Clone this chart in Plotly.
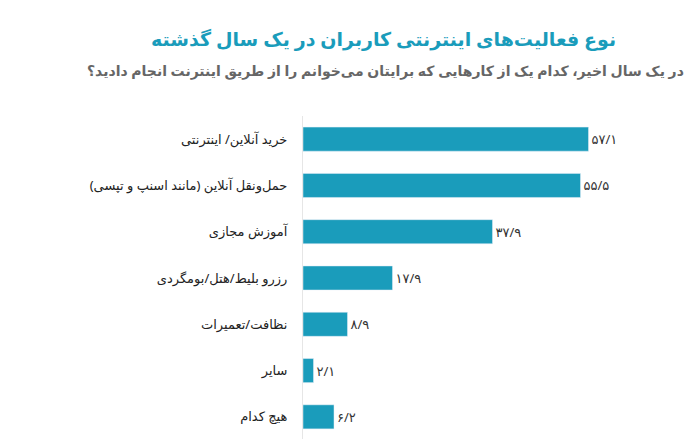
import plotly.graph_objects as go

categories = ["خرید آنلاین/ اینترنتی", "حمل‌ونقل آنلاین (مانند اسنپ و تپسی)", "آموزش مجازی",
              "رزرو بلیط/هتل/بومگردی", "نظافت/تعمیرات", "سایر", "هیچ کدام"]
values = [57.1, 55.5, 37.9, 17.9, 8.9, 2.1, 6.2]
labels = ["۵۷/۱", "۵۵/۵", "۳۷/۹", "۱۷/۹", "۸/۹", "۲/۱", "۶/۲"]

TEAL = "#1a9cbb"
FONT = "Noto Sans, DejaVu Sans, sans-serif"

fig = go.Figure(go.Bar(
    x=values, y=categories, orientation="h", marker_color=TEAL, width=0.52,
    text=labels, textposition="outside", cliponaxis=False,
    textfont={"size": 13, "color": "#333", "family": FONT},
))

fig.update_layout(
    width=700, height=439,
    paper_bgcolor="white", plot_bgcolor="white",
    margin={"l": 295, "r": 40, "t": 108, "b": 7},
    showlegend=False,
    xaxis={"range": [0, 73], "visible": False},
    yaxis={"autorange": "reversed", "showline": True, "linecolor": "#e6e6e6",
           "ticks": "", "ticklabelstandoff": 12,
           "tickfont": {"size": 13, "color": "#222", "family": FONT}},
    font={"family": FONT},
)
fig.add_annotation(text="<b>نوع فعالیت‌های اینترنتی کاربران در یک سال گذشته</b>",
                   xref="paper", yref="paper", x=0.22, y=1.0, yshift=92, xanchor="center",
                   showarrow=False, font={"size": 19, "color": TEAL, "family": FONT})
fig.add_annotation(text="<b>در یک سال اخیر، کدام یک از کارهایی که برایتان می‌خوانم را از طریق اینترنت انجام دادید؟</b>",
                   xref="paper", yref="paper", x=0.227, y=1.0, yshift=57, xanchor="center",
                   showarrow=False, font={"size": 14, "color": "#666", "family": FONT})

fig.write_html("out.html")
